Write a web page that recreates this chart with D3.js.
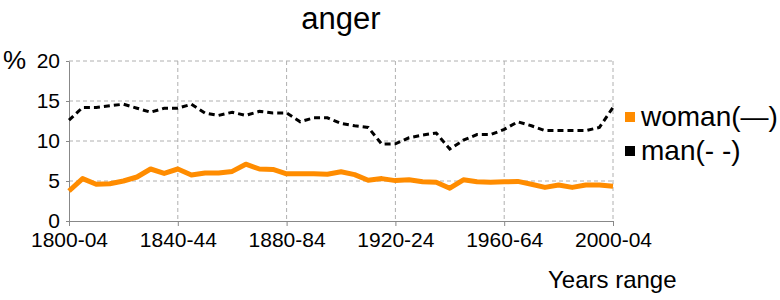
<!DOCTYPE html>
<html>
<head>
<meta charset="utf-8">
<script src="https://cdn.jsdelivr.net/npm/d3@7"></script>
<style>
  body { margin: 0; background: #fff; }
  text { font-family: "Liberation Sans", Arial, sans-serif; fill: #000; }
</style>
</head>
<body>
<div id="chart"></div>
<script>
const periods = ["1800-04","1805-09","1810-14","1815-19","1820-24","1825-29","1830-34","1835-39",
  "1840-44","1845-49","1850-54","1855-59","1860-64","1865-69","1870-74","1875-79",
  "1880-84","1885-89","1890-94","1895-99","1900-04","1905-09","1910-14","1915-19",
  "1920-24","1925-29","1930-34","1935-39","1940-44","1945-49","1950-54","1955-59",
  "1960-64","1965-69","1970-74","1975-79","1980-84","1985-89","1990-94","1995-99","2000-04"]

const woman = [3.75,5.3,4.6,4.65,5.0,5.5,6.5,5.95,6.5,5.75,6.0,6.0,6.2,7.1,6.5,6.45,
  5.9,5.9,5.9,5.85,6.15,5.8,5.1,5.3,5.05,5.15,4.9,4.85,4.1,5.15,4.9,4.85,4.9,4.95,
  4.6,4.2,4.5,4.2,4.5,4.5,4.35]

const man = [12.6,14.2,14.2,14.4,14.6,14.1,13.6,14.1,14.1,14.6,13.5,13.2,13.6,13.2,13.7,13.5,
  13.5,12.4,12.9,12.9,12.2,11.9,11.7,9.6,9.65,10.4,10.75,11.0,9.0,10.1,10.8,10.8,
  11.45,12.4,11.9,11.3,11.3,11.3,11.3,11.7,14.2]

const yTicks = [0, 5, 10, 15, 20]
const xLabels = ["1800-04","1840-44","1880-84","1920-24","1960-64","2000-04"]

const width = 780, height = 300
const margin = {left: 69, right: 167, top: 61, bottom: 79}
const font = '"Liberation Sans", Arial, sans-serif'

const svg = d3.select('#chart').append('svg')
  .attr('width', width)
  .attr('height', height)

const x = d3.scalePoint().domain(periods).range([margin.left, width - margin.right])
const y = d3.scaleLinear().domain([0, 20]).range([height - margin.bottom, margin.top])

// gridlines
svg.append('g').selectAll('line')
  .data(yTicks.filter(d => d > 0))
  .enter().append('line')
  .attr('x1', margin.left).attr('x2', width - margin.right)
  .attr('y1', d => y(d)).attr('y2', d => y(d))
  .attr('stroke', '#b0b0b0').attr('stroke-dasharray', '4,3')

svg.append('g').selectAll('line')
  .data(xLabels.slice(1))
  .enter().append('line')
  .attr('x1', d => x(d)).attr('x2', d => x(d))
  .attr('y1', margin.top).attr('y2', height - margin.bottom)
  .attr('stroke', '#b0b0b0').attr('stroke-dasharray', '4,3')

// axes
const xAxis = svg.append('g')
  .attr('transform', `translate(0,${height - margin.bottom})`)
  .call(d3.axisBottom(x).tickValues(xLabels).tickSize(5).tickPadding(6).tickSizeOuter(0))
xAxis.select('.domain').attr('stroke', '#888')
xAxis.selectAll('.tick line').attr('stroke', '#888')
xAxis.selectAll('text').attr('font-size', 21).attr('font-family', font)

const yAxis = svg.append('g')
  .attr('transform', `translate(${margin.left},0)`)
  .call(d3.axisLeft(y).tickValues(yTicks).tickSize(3).tickPadding(6).tickSizeOuter(0))
yAxis.select('.domain').attr('stroke', '#888')
yAxis.selectAll('.tick line').attr('stroke', '#888')
yAxis.selectAll('text').attr('font-size', 21).attr('font-family', font)

// lines
const line = d3.line().x((d, i) => x(periods[i])).y(d => y(d))

svg.append('path')
  .datum(woman)
  .attr('d', line)
  .attr('fill', 'none')
  .attr('stroke', '#ff8c00')
  .attr('stroke-width', 5)
  .attr('stroke-linejoin', 'round')

svg.append('path')
  .datum(man)
  .attr('d', line)
  .attr('fill', 'none')
  .attr('stroke', '#000')
  .attr('stroke-width', 3)
  .attr('stroke-dasharray', '6,4')

// titles
svg.append('text').attr('x', 341).attr('y', 29)
  .attr('text-anchor', 'middle').attr('font-size', 31).text('anger')
svg.append('text').attr('x', 3).attr('y', 69)
  .attr('font-size', 26).text('%')
svg.append('text').attr('x', 548).attr('y', 288)
  .attr('font-size', 24).text('Years range')

// legend
const legend = [{name: 'woman(\u2014)', color: '#ff8c00'}, {name: 'man(- -)', color: '#000'}]
const lg = svg.append('g').selectAll('g')
  .data(legend)
  .enter().append('g')
  .attr('transform', (d, i) => `translate(625,${112 + i * 34})`)
lg.append('rect').attr('width', 10).attr('height', 10).attr('fill', d => d.color)
lg.append('text').attr('x', 16).attr('y', 14).attr('font-size', 28).text(d => d.name)
</script>
</body>
</html>
